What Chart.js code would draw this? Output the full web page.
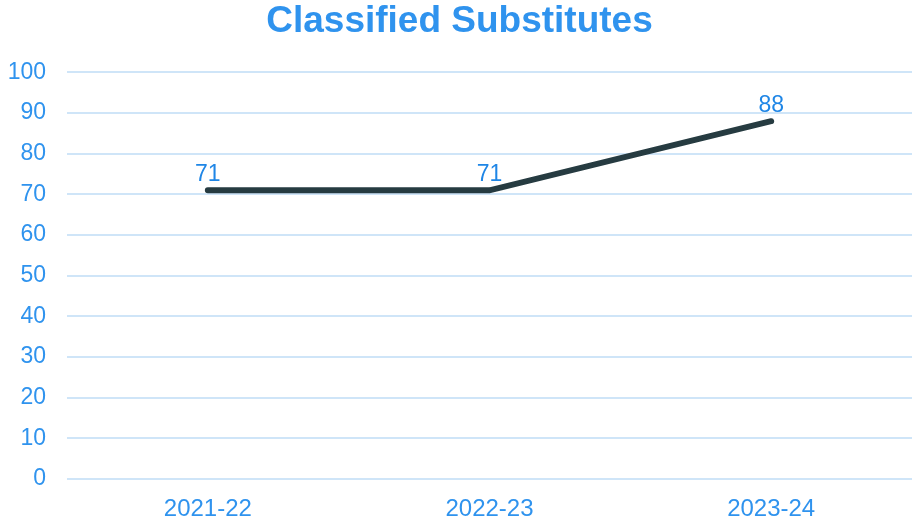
<!DOCTYPE html>
<html>
<head>
<meta charset="utf-8">
<script src="https://cdn.jsdelivr.net/npm/chart.js@4"></script>
<style>
  html, body { margin: 0; padding: 0; background: #fff; }
  #wrap { width: 912px; height: 519px; }
</style>
</head>
<body>
<div id="wrap"><canvas id="chart" width="912" height="519"></canvas></div>
<script>
// ========== DATA ==========
const YEARS = ['2021-22', '2022-23', '2023-24'];
const SUBSTITUTES = [71, 71, 88];
const Y_TICKS = [0, 10, 20, 30, 40, 50, 60, 70, 80, 90, 100];

const BLUE = '#2f93ee';
const LINE = '#263b41';
const FONT = '"Liberation Sans", Arial, sans-serif';

// draws the value above each point
const valueLabels = {
  id: 'valueLabels',
  afterDatasetsDraw(chart) {
    const ctx = chart.ctx;
    const meta = chart.getDatasetMeta(0);
    ctx.save();
    ctx.font = '23px ' + FONT;
    ctx.fillStyle = '#1f86e6';
    ctx.textAlign = 'center';
    ctx.textBaseline = 'bottom';
    meta.data.forEach((pt, i) => {
      ctx.fillText(String(SUBSTITUTES[i]), pt.x, pt.y - 4);
    });
    ctx.restore();
  }
};

new Chart(document.getElementById('chart'), {
  type: 'line',
  data: {
    labels: YEARS,
    datasets: [{
      data: SUBSTITUTES,
      borderColor: LINE,
      borderWidth: 6,
      borderCapStyle: 'round',
      pointRadius: 0,
      tension: 0,
      fill: false
    }]
  },
  options: {
    responsive: false,
    animation: false,
    layout: { padding: { left: 7, right: 0, top: 0, bottom: 0 } },
    plugins: {
      legend: { display: false },
      tooltip: { enabled: false },
      title: {
        display: true,
        text: 'Classified Substitutes',
        color: BLUE,
        font: { family: FONT, size: 37, weight: 'bold' },
        padding: { top: 0, bottom: 28 }
      }
    },
    scales: {
      x: {
        offset: true,
        grid: { display: false },
        border: { display: false },
        afterFit(axis) { axis.height = 40; },
        ticks: {
          color: BLUE,
          padding: 8,
          font: { family: FONT, size: 24 }
        }
      },
      y: {
        min: Y_TICKS[0],
        max: Y_TICKS[Y_TICKS.length - 1],
        afterBuildTicks(axis) {
          axis.ticks = Y_TICKS.map(v => ({ value: v }));
        },
        afterFit(axis) { axis.width = 60; },
        grid: { color: '#cfe5f8', lineWidth: 2, drawTicks: false },
        border: { display: false },
        ticks: {
          color: BLUE,
          padding: 21,
          font: { family: FONT, size: 23 }
        }
      }
    }
  },
  plugins: [valueLabels]
});
</script>
</body>
</html>
